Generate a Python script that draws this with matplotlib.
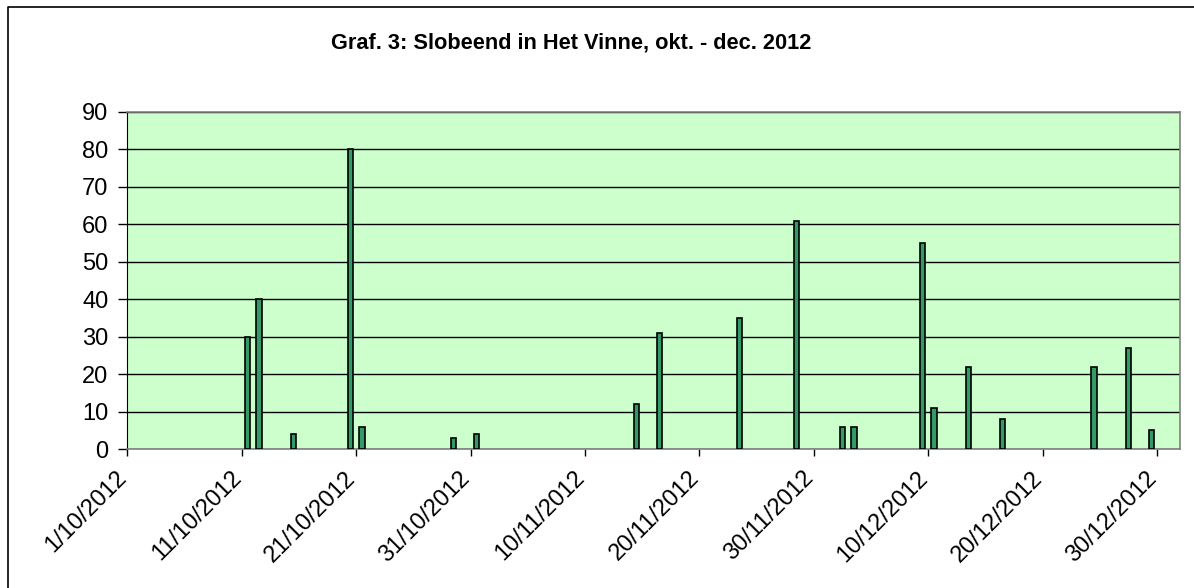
import datetime as dt
import matplotlib
matplotlib.use("Agg")
import matplotlib.pyplot as plt
import matplotlib.dates as mdates
import matplotlib.transforms as mtransforms
from matplotlib.lines import Line2D

plt.rcParams['font.family'] = ['Liberation Sans', 'DejaVu Sans']

# telling Slobeend per datum
dates = ["11/10/2012", "12/10/2012", "15/10/2012", "20/10/2012", "21/10/2012",
         "29/10/2012", "31/10/2012", "14/11/2012", "16/11/2012", "23/11/2012",
         "28/11/2012", "2/12/2012", "3/12/2012", "9/12/2012", "10/12/2012",
         "13/12/2012", "16/12/2012", "24/12/2012", "27/12/2012", "29/12/2012"]
counts = [30, 40, 4, 80, 6, 3, 4, 12, 31, 35, 61, 6, 6, 55, 11, 22, 8, 22, 27, 5]

tick_dates = ["1/10/2012", "11/10/2012", "21/10/2012", "31/10/2012", "10/11/2012",
              "20/11/2012", "30/11/2012", "10/12/2012", "20/12/2012", "30/12/2012"]
y_ticks = [0, 10, 20, 30, 40, 50, 60, 70, 80, 90]

title = "Graf. 3: Slobeend in Het Vinne, okt. - dec. 2012"


def parse(s):
    return dt.datetime.strptime(s, "%d/%m/%Y")


x = mdates.date2num([parse(d) for d in dates]) + 0.5  # bar in het midden van de dag
xt = mdates.date2num([parse(d) for d in tick_dates])

W, H = 1194, 588
fig = plt.figure(figsize=(W / 100, H / 100), dpi=100)
ax = fig.add_axes([127.3 / W, 1 - 449 / H, (1180 - 127.3) / W, (449 - 112) / H])
ax.set_facecolor('#CCFFCC')

ax.set_axisbelow(True)
ax.yaxis.grid(True, color='black', linewidth=1.0)
ax.bar(x, counts, width=0.47, color='#339966', edgecolor='black', linewidth=1.2, zorder=3)

ax.set_xlim(mdates.date2num(parse("1/10/2012")), mdates.date2num(parse("1/10/2012")) + 92)
ax.set_ylim(0, 90)
ax.set_yticks(y_ticks)
ax.set_xticks(xt)
ax.set_xticklabels([f"{parse(d).day}/{parse(d).month}/{parse(d).year}" for d in tick_dates],
                   rotation=45, ha='right', va='top')
ax.tick_params(axis='both', labelsize=17, colors='black', width=1)
ax.tick_params(axis='x', length=5, pad=8)
ax.tick_params(axis='y', length=6.5, pad=7)

# labels een paar pixels naar rechts, zodat het einde op de tick valt
shift = mtransforms.ScaledTranslation(4 / 100, 0, fig.dpi_scale_trans)
for lbl in ax.get_xticklabels():
    lbl.set_transform(lbl.get_transform() + shift)

for side in ['top', 'right', 'bottom']:
    ax.spines[side].set_color('#808080')
    ax.spines[side].set_linewidth(1.2)
ax.spines['left'].set_color('black')

fig.text(571 / W, 1 - 43 / H, title, ha='center', va='center',
         fontsize=15.7, fontweight='bold')

# rand rond de grafiek
fig.add_artist(Line2D([8 / W, 8 / W, 1.01], [-0.01, 1 - 7 / H, 1 - 7 / H],
                      color='black', linewidth=1.2, transform=fig.transFigure))

fig.savefig("out.png", dpi=100)
